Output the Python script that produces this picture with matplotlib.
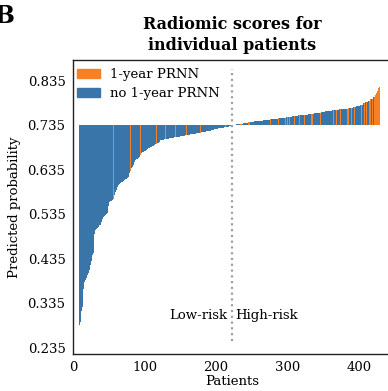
"""
Waterfall of radiomic scores per patient (sorted), bars drawn from the
risk threshold, coloured by 1-year PRNN outcome.
"""
import matplotlib
matplotlib.use("Agg")
import matplotlib.pyplot as plt
from matplotlib.patches import Patch
import numpy as np

# ── Data ─────────────────────────────────────────────────────────────────────
THRESHOLD = 0.735
FIRST_PATIENT = 8     # first bar sits at patient 8 on the x axis
CUTOFF_PATIENT = 222  # dotted low/high risk divider

# sorted predicted probabilities, low-risk side (steep part)
scores_low = [
    0.280, 0.286, 0.294, 0.312, 0.318, 0.327, 0.368, 0.374, 0.383, 0.387,
    0.390, 0.392, 0.398, 0.404, 0.407, 0.410, 0.421, 0.427, 0.430, 0.443,
    0.449, 0.452, 0.490, 0.499, 0.500, 0.502, 0.504, 0.506, 0.508, 0.511,
    0.512, 0.516, 0.518, 0.525, 0.528, 0.530, 0.531, 0.533, 0.534, 0.536,
    0.537, 0.553, 0.556, 0.563, 0.564, 0.565, 0.566, 0.567, 0.569, 0.571,
    0.578, 0.585, 0.588, 0.590, 0.597, 0.601, 0.602, 0.603, 0.605, 0.606,
    0.607, 0.608, 0.609, 0.610, 0.612, 0.614, 0.615, 0.615, 0.616, 0.618,
    0.620, 0.627, 0.632, 0.637, 0.639, 0.642, 0.646, 0.648, 0.653, 0.656,
    0.659, 0.659, 0.660, 0.662, 0.663, 0.664, 0.668, 0.670, 0.672, 0.674,
    0.675, 0.676, 0.677, 0.677, 0.679, 0.679, 0.681, 0.683, 0.683, 0.684,
    0.686, 0.687, 0.687, 0.688, 0.689, 0.689, 0.690, 0.692, 0.693, 0.693,
    0.695, 0.696, 0.696, 0.697,
]

# flatter part: score levels and how many patients share each level
plateau_levels = [
    0.701, 0.704, 0.706, 0.709, 0.711, 0.714, 0.716, 0.718, 0.720, 0.722,
    0.724, 0.726, 0.728, 0.730, 0.731, 0.732, 0.734, 0.736,
    0.7384, 0.7407, 0.7422, 0.7429, 0.7444, 0.7467, 0.7489, 0.7512, 0.7534,
    0.7557, 0.7579, 0.7601, 0.7624, 0.7654, 0.7669, 0.7691, 0.7714, 0.7736,
    0.7759, 0.7781, 0.7811, 0.7841, 0.7871, 0.7901, 0.7931,
]
plateau_counts = [
    6, 7, 7, 8, 7, 7, 8, 7, 8, 6,
    5, 5, 5, 4, 4, 3, 3, 7,
    10, 6, 3, 6, 13, 9, 11, 12, 8,
    9, 13, 9, 10, 6, 9, 10, 12, 7,
    5, 5, 4, 4, 3, 4, 3,
]

# steep tail of the high-risk side
scores_high = [0.7956, 0.7976, 0.7990, 0.8006, 0.8030,
               0.8080, 0.8125, 0.8155, 0.8180, 0.8200, 0.8290]

# patients (x position) with 1-year PRNN
prnn_patients = [
    56, 71, 80, 88, 94, 102, 113, 117, 129, 143, 148, 159, 175, 178, 186,
    196, 207, 213, 234, 236, 246, 247, 276, 280, 288, 294, 297, 300, 303,
    310, 317, 324, 334, 335, 347, 350, 353, 364, 365, 369, 371, 375, 381,
    384, 386, 390, 394, 395, 399, 402, 404, 406, 408, 411, 413, 415, 417,
    419, 422, 424, 425, 426, 427, 428, 429, 430,
]

x_ticks = [0, 100, 200, 300, 400]
y_ticks = [0.235, 0.335, 0.435, 0.535, 0.635, 0.735, 0.835]

# ── Colours / fonts ──────────────────────────────────────────────────────────
ORANGE = "#f58025"
BLUE = "#3a75a9"
plt.rcParams["font.family"] = ["DejaVu Serif"]

scores = np.concatenate([scores_low,
                         np.repeat(plateau_levels, plateau_counts),
                         scores_high])
patients = np.arange(len(scores)) + FIRST_PATIENT
colors = [ORANGE if p in prnn_patients else BLUE for p in patients]

# ── Plot ─────────────────────────────────────────────────────────────────────
fig = plt.figure(figsize=(3.88, 3.91), dpi=100)
ax = fig.add_axes([0.187, 0.0946, 0.822, 0.7524])

ax.bar(patients, scores - THRESHOLD, bottom=THRESHOLD, width=1.0,
       color=colors, linewidth=0)
ax.axvline(CUTOFF_PATIENT, ymin=0.045, ymax=0.97, color="#a0a0a0",
           linestyle=(0, (1, 1.6)), linewidth=1.6)

ax.text(CUTOFF_PATIENT - 6, 0.308, "Low-risk", ha="right", va="center",
        fontsize=9.5)
ax.text(CUTOFF_PATIENT + 5, 0.308, "High-risk", ha="left", va="center",
        fontsize=9.5)

ax.set_xlim(-1, 446)
ax.set_ylim(0.2214, 0.882)
ax.set_xticks(x_ticks)
ax.set_yticks(y_ticks)
ax.set_yticklabels([f"{t:.3f}" for t in y_ticks])
ax.tick_params(length=0, labelsize=9.5, pad=5)
ax.set_xlabel("Patients", fontsize=9.5, labelpad=1)
ax.set_ylabel("Predicted probability", fontsize=9.5, labelpad=5)
for s in ax.spines.values():
    s.set_linewidth(1.0)
    s.set_color("#222222")

ax.set_title("Radiomic scores for\nindividual patients", fontsize=11.5,
             fontweight="bold", pad=7, linespacing=1.3)

handles = [Patch(color=ORANGE, label="1-year PRNN"),
           Patch(color=BLUE, label="no 1-year PRNN")]
ax.legend(handles=handles, loc="upper left", frameon=False, fontsize=9.5,
          bbox_to_anchor=(0.0, 0.985), borderaxespad=0.0, borderpad=0.3,
          handlelength=1.8, handleheight=0.75, handletextpad=0.7,
          labelspacing=0.45)

fig.text(-0.012, 0.99, "B", fontsize=17, fontweight="bold", va="top")

fig.savefig("out.png", dpi=100)
